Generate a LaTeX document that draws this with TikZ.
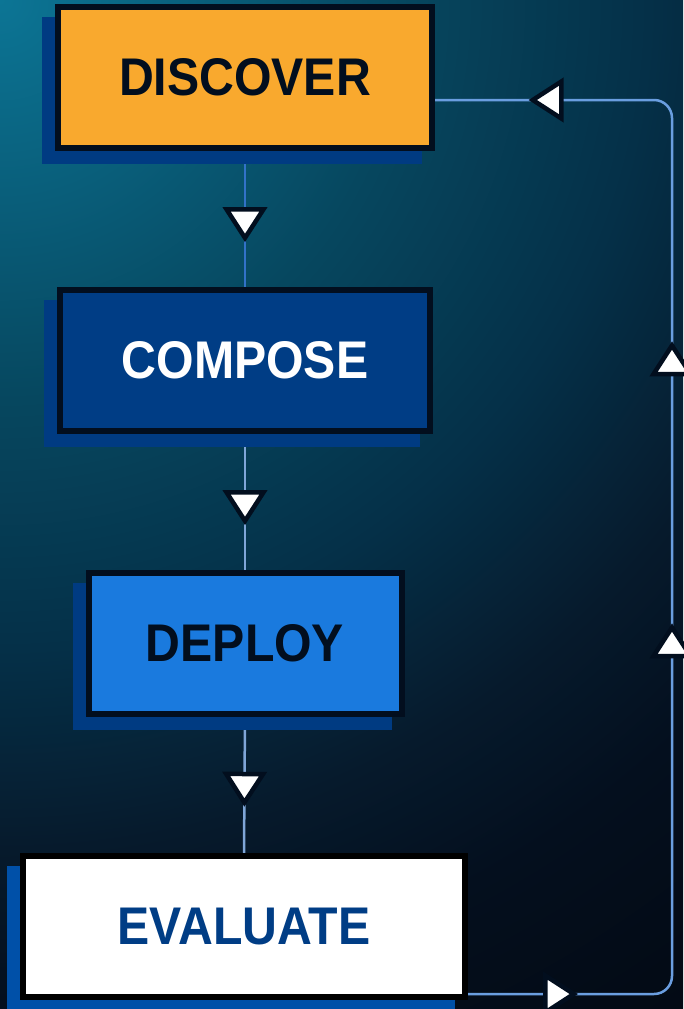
\documentclass[tikz,border=0pt]{standalone}
\usepackage{fontspec}
\newfontfamily\labelfont[FakeStretch=0.91]{Liberation Sans}
\usetikzlibrary{arrows.meta}
\usetikzlibrary{decorations.markings}
\usetikzlibrary{shadows}

\definecolor{inkdark}{HTML}{020E1E}
\definecolor{discoverorange}{HTML}{F9A92E}
\definecolor{composenavy}{HTML}{003D85}
\definecolor{deployblue}{HTML}{1A7ADE}
\definecolor{shadowblue}{HTML}{003B82}
\definecolor{shadowbright}{HTML}{0050A8}
\definecolor{linkblue}{HTML}{3272C8}
\definecolor{linklight}{HTML}{7FA6D8}
\definecolor{loopblue}{HTML}{6A9EE0}
\definecolor{bgteal}{HTML}{0C7595}
\definecolor{bgpetrol}{HTML}{06475F}
\definecolor{bgdeep}{HTML}{053048}
\definecolor{bgnavy}{HTML}{061A2C}
\definecolor{bgnight}{HTML}{040F1E}
\definecolor{bgblack}{HTML}{030A14}

\pgfdeclareradialshading{bgglow}{\pgfpoint{0bp}{0bp}}{color(0bp)=(bgteal); color(8.2bp)=(bgpetrol); color(13.3bp)=(bgdeep); color(17.4bp)=(bgnavy); color(20.5bp)=(bgnight); color(25bp)=(bgblack); color(50bp)=(bgblack)}

\pgfdeclarelayer{backdrop}
\pgfdeclarelayer{links}
\pgfsetlayers{backdrop,links,main}

\tikzset{flowtip/.tip={Triangle[width=44pt,length=35pt,line width=4.5pt,color=inkdark,fill=white]}}

\begin{document}
\begin{tikzpicture}[x=1pt,y=-1pt,
	stagebox/.style={rectangle, draw=inkdark, line width=6pt, minimum height=141pt, inner sep=0pt,
		font=\labelfont\bfseries\fontsize{53}{60}\selectfont,
		drop shadow={shadow xshift=-13pt, shadow yshift=-13pt, opacity=1, fill=#1, draw=#1}},
	stagebox/.default=shadowblue,
	link/.style={draw=#1, line width=2.5pt},
	midarrow/.style={postaction={decorate}, decoration={markings, mark=at position #1 with {\arrow{flowtip}}}}]
	
	\useasboundingbox (0,0) rectangle (683,1009);
	
	% background glow from the upper left corner
	\begin{pgfonlayer}{backdrop}
		\begin{scope}
			\clip (0,0) rectangle (683,1009);
			\shade [shading=bgglow] (0,0) circle (1220);
		\end{scope}
	\end{pgfonlayer}
	
	% the four stages
	\node [stagebox, fill=discoverorange, text=inkdark, minimum width=374pt] (discover) at (245,77.5) {DISCOVER};
	\node [stagebox, fill=composenavy, text=white, minimum width=370pt] (compose) at (245,360.5) {COMPOSE};
	\node [stagebox, fill=deployblue, text=inkdark, minimum width=313pt] (deploy) at (245,643.5) {DEPLOY};
	\node [stagebox=shadowbright, fill=white, draw=black, text=composenavy, minimum width=442pt] (evaluate) at (244,926.5) {EVALUATE};
	
	\coordinate (loopbottom) at (672,994);
	\coordinate (looptop) at (672,100);
	
	% connectors go behind the shadows
	\begin{pgfonlayer}{links}
		\draw [link=linkblue, midarrow=0.67] (discover.south) -- (compose.north);
		\draw [link=linklight, midarrow=0.67] (compose.south) -- (deploy.north);
		\draw [link=linklight, midarrow=0.66] (deploy.south) -- (evaluate.north);
		
		\draw [link=loopblue, rounded corners=18pt, postaction={decorate},
			decoration={markings,
				mark=at position 110pt with {\arrow{flowtip}},
				mark=at position 567pt with {\arrow{flowtip}},
				mark=at position 849pt with {\arrow{flowtip}},
				mark=at position 1226pt with {\arrow{flowtip}}}]
			([yshift=6pt]evaluate.south east) -- (loopbottom) -- (looptop) -- ([yshift=-22.5pt]discover.east);
	\end{pgfonlayer}
	
\end{tikzpicture}
\end{document}
